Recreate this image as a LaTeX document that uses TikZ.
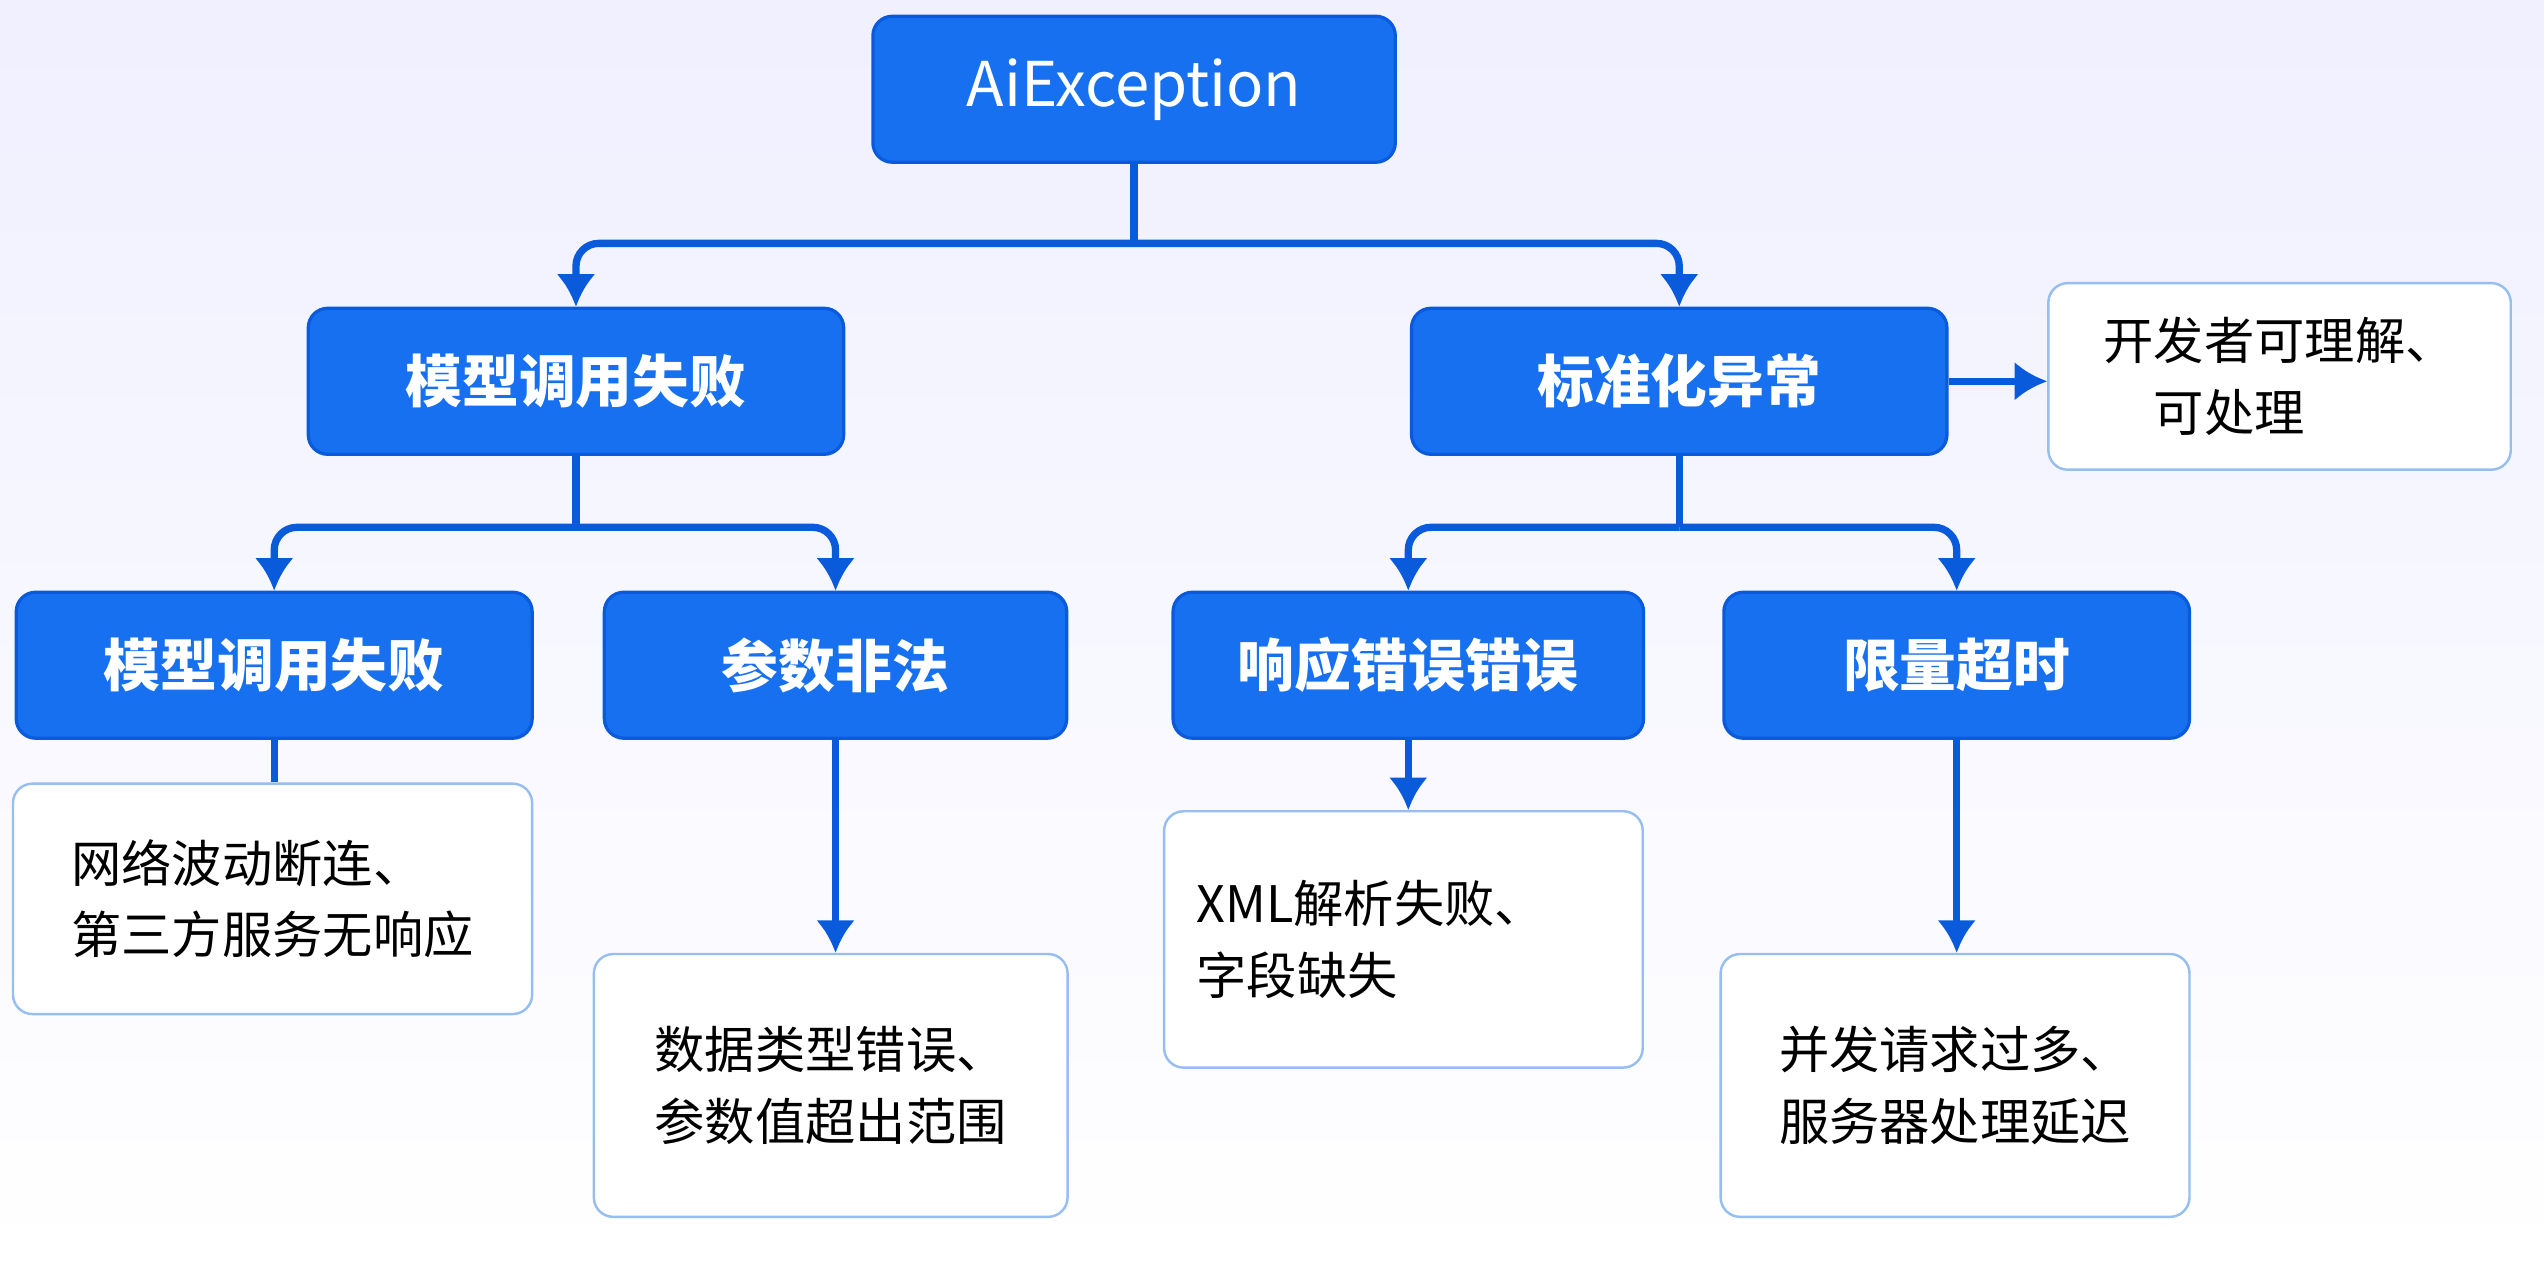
\documentclass[tikz,border=0pt]{standalone}
\usepackage{fontspec}
\setmainfont{Noto Sans CJK SC}
\usetikzlibrary{arrows.meta}
\usetikzlibrary{positioning}
\definecolor{boxblue}{RGB}{22,112,240}
\definecolor{edgeblue}{RGB}{10,90,220}
\definecolor{noteedge}{RGB}{150,190,240}
\tikzset{
  block/.style={rectangle, draw=edgeblue, line width=2pt, fill=boxblue, text=white, rounded corners=12pt, font=\fontsize{35}{40}\selectfont\bfseries},
  note/.style={rectangle, draw=noteedge, line width=1.5pt, fill=white, rounded corners=12pt, font=\fontsize{31}{44}\selectfont, align=left},
  line/.style={draw=edgeblue, line width=4.5pt, rounded corners=14pt},
  arr/.style={line, -{Latex[length=20pt,width=24pt]}}
}

\begin{document}
\begin{tikzpicture}[x=1pt, y=-1pt]
    \useasboundingbox (0,0) rectangle (1568,780);
    \shade[top color=blue!6, bottom color=white] (0,0) rectangle (1568,780);

    % Place nodes
    \node [block, minimum width=322pt, minimum height=90pt, font=\fontsize{38}{44}\selectfont] (root) at (699,55) {AiException};
    \node [block, minimum width=330pt, minimum height=90pt] (call) at (355,235) {模型调用失败};
    \node [block, minimum width=330pt, minimum height=90pt] (std) at (1035,235) {标准化异常};
    \node [note, minimum width=285pt, minimum height=115pt] (dev) at (1405,232) {开发者可理解、\\\quad 可处理};

    \node [block, minimum width=318pt, minimum height=90pt] (fail) at (169,410) {模型调用失败};
    \node [block, minimum width=285pt, minimum height=90pt] (param) at (515,410) {参数非法};
    \node [block, minimum width=290pt, minimum height=90pt] (resp) at (868,410) {响应错误错误};
    \node [block, minimum width=287pt, minimum height=90pt] (limit) at (1206,410) {限量超时};

    \node [note, minimum width=320pt, minimum height=142pt] (net) at (168,554) {网络波动断连、\\第三方服务无响应};
    \node [note, minimum width=292pt, minimum height=162pt] (type) at (512,669) {数据类型错误、\\参数值超出范围};
    \node [note, minimum width=295pt, minimum height=158pt, text width=255pt] (xml) at (865,579) {XML解析失败、\\字段缺失};
    \node [note, minimum width=289pt, minimum height=162pt] (conc) at (1205,669) {并发请求过多、\\服务器处理延迟};

    % Draw edges
    \coordinate (r0) at (699,150);
    \coordinate (c0) at (355,325);
    \coordinate (s0) at (1035,325);
    \path [line] (root.south) -- (r0);
    \path [arr] (r0) -| (call.north);
    \path [arr] (r0) -| (std.north);
    \path [arr] (std.east) -- (std.east -| dev.west);
    \path [line] (call.south) -- (c0);
    \path [arr] (c0) -| (fail.north);
    \path [arr] (c0) -| (param.north);
    \path [line] (std.south) -- (s0);
    \path [arr] (s0) -| (resp.north);
    \path [arr] (s0) -| (limit.north);
    \path [line] (fail.south) -- (net.north -| fail.south);
    \path [arr] (param.south) -- (type.north -| param.south);
    \path [arr] (resp.south) -- (xml.north -| resp.south);
    \path [arr] (limit.south) -- (conc.north -| limit.south);
\end{tikzpicture}
\end{document}
